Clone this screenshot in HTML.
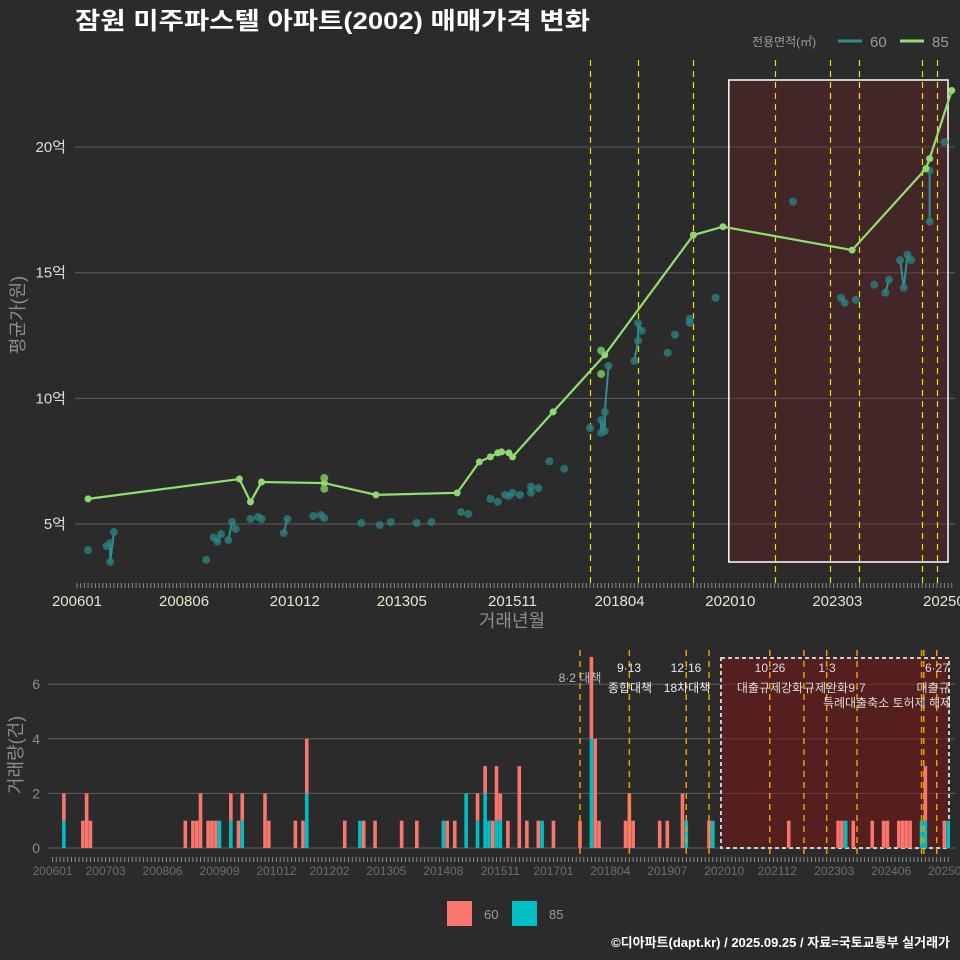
<!DOCTYPE html>
<html><head><meta charset="utf-8">
<style>
html,body{margin:0;padding:0;background:#2b2b2b;}
svg{display:block;font-family:"Liberation Sans","Noto Sans CJK KR",sans-serif;}
</style></head>
<body>
<svg id="chart" width="960" height="960" viewBox="0 0 960 960" xmlns="http://www.w3.org/2000/svg">
<rect x="0" y="0" width="960" height="960" fill="#2b2b2b"/>
<text x="75" y="29" fill="#ffffff" font-size="24" font-weight="bold" textLength="515" lengthAdjust="spacingAndGlyphs">잠원 미주파스텔 아파트(2002) 매매가격 변화</text>
<g>
<text x="752" y="46" fill="#9a9a9a" font-size="12">전용면적(㎡)</text>
<line x1="838" y1="41" x2="862" y2="41" stroke="#2f8f8f" stroke-width="3"/>
<text x="870" y="47" fill="#9a9a9a" font-size="15">60</text>
<line x1="900" y1="41" x2="924" y2="41" stroke="#90e070" stroke-width="3"/>
<text x="932" y="47" fill="#9a9a9a" font-size="15">85</text>
</g>
<g id="topPanel"></g>
<g id="botPanel"></g>
<g>
<rect x="447" y="901" width="25" height="25" fill="#f8766d"/>
<text x="484" y="919" fill="#9a9a9a" font-size="13">60</text>
<rect x="512" y="901" width="25" height="25" fill="#00bfc4"/>
<text x="549" y="919" fill="#9a9a9a" font-size="13">85</text>
</g>
<text x="950" y="947" fill="#ffffff" font-size="13" font-weight="bold" text-anchor="end">©디아파트(dapt.kr) / 2025.09.25 / 자료=국토교통부 실거래가</text>
</svg>
<script>
// month index: 0 = 2006-01
const tickMonths = [0,29,59,88,118,147,177,206,236];
const tickLabels = ["200601","200806","201012","201305","201511","201804","202010","202303","202509"];
const botTickMonths = [0,14,29,44,59,73,88,103,118,132,147,162,177,191,206,221,236];
const botTickLabels = ["200601","200703","200806","200909","201012","201202","201305","201408","201511","201701","201804","201907","202010","202112","202303","202406","202509"];
const yTicks = [5,10,15,20];
const yTickLabels = ["5억","10억","15억","20억"];
const line85Months = [3,44,47,50,67,81,103,109,112,114,115,117,118,129,143,167,175,210,230,231,237];
const line85Values = [6.0,6.79,5.88,6.67,6.63,6.16,6.24,7.47,7.67,7.83,7.87,7.83,7.67,9.46,11.73,16.5,16.83,15.9,19.14,19.54,22.25];
const extra85Months = [67,67,142,142];
const extra85Values = [6.83,6.4,11.9,10.97];
const pts60Months = [3,8,9,9,10,35,37,38,39,41,42,43,47,49,50,56,57,64,66,67,77,82,85,92,96,104,106,112,114,116,117,118,120,123,123,125,128,132,139,142,142,143,143,144,151,152,152,153,160,162,166,166,173,194,207,208,211,216,219,220,223,224,225,226,231,231,235];
const pts60Values = [3.96,4.12,4.24,3.49,4.68,3.57,4.47,4.3,4.6,4.36,5.08,4.8,5.2,5.28,5.2,4.64,5.2,5.32,5.36,5.24,5.04,4.96,5.08,5.04,5.08,5.48,5.4,6.0,5.88,6.16,6.12,6.24,6.16,6.48,6.24,6.43,7.5,7.2,8.82,8.63,9.14,8.7,9.46,11.29,11.49,12.29,13.0,12.69,11.81,12.53,13.0,13.17,14.0,17.83,14.0,13.8,13.92,14.52,14.2,14.72,15.5,14.4,15.72,15.5,17.03,19.06,20.2];
const topEventMonths = [139,152,167,189,204,212,229,233];
const botEventMonths = [139,152,167,173,189,198,204,212,229,229.6,233];
const volMonths = [3,8,9,10,35,37,38,39,41,42,43,44,47,49,50,56,57,64,66,67,77,81,82,85,92,96,103,104,106,109,112,114,115,116,117,118,120,123,125,128,129,132,139,142,143,144,151,152,153,160,162,166,167,173,174,194,207,208,209,211,216,219,220,223,224,225,226,229,230,235,236];
const vol60 = [1,1,2,1,1,1,1,2,1,1,1,0,1,1,1,2,1,1,1,2,1,0,1,1,1,1,0,1,1,0,1,1,0,1,2,1,1,3,1,1,0,1,1,3,4,1,1,2,1,1,1,2,0,1,0,1,1,1,0,1,1,1,1,1,1,1,1,0,2,1,0];
const vol85 = [1,0,0,0,0,0,0,0,0,0,0,1,1,0,1,0,0,0,0,2,0,1,0,0,0,0,1,0,0,2,1,2,1,0,1,1,0,0,0,0,1,0,0,4,0,0,0,0,0,0,0,0,1,0,1,0,0,0,1,0,0,0,0,0,0,0,0,1,1,0,1];
const volTicks = [0,2,4,6];

const NS="http://www.w3.org/2000/svg";
function mk(parent,tag,attrs){const e=document.createElementNS(NS,tag);for(const k in attrs)e.setAttribute(k,attrs[k]);parent.appendChild(e);return e;}
const xT = m => 77 + m*3.691;
const yT = v => 524 - (v-5)*25.13;
const xB = m => 52.5 + m*3.795;
const yB = c => 848 - c*27.3;
const topG=document.getElementById('topPanel'), botG=document.getElementById('botPanel');

// ---- top panel ----
yTicks.forEach((v,i)=>{
  const g=mk(topG,'line',{x1:75,x2:955,y1:yT(v),y2:yT(v),stroke:'#5e5e5e','stroke-width':1});
  
  
  const t=mk(topG,'text',{x:66,y:yT(v)+5,fill:'#dddddd','font-size':15,'text-anchor':'end'});
  t.textContent=yTickLabels[i];
  
  
});
const box=mk(topG,'rect',{x:xT(176.6),y:80,width:948-xT(176.6),height:482,fill:'rgba(110,30,35,0.35)',stroke:'#ffffff','stroke-width':1.5});


topEventMonths.forEach(m=>{
  const xx=Math.round(xT(m))+0.5;
  const l=mk(topG,'line',{x1:xx,x2:xx,y1:60,y2:585,stroke:'#e6e600','stroke-width':1.2,'stroke-dasharray':'6,5'});
  
  
});
for(let m=0;m<=237;m++){
  const l=mk(topG,'line',{x1:xT(m),x2:xT(m),y1:583,y2:588,stroke:'#8a8a8a','stroke-width':1});
  
  
}
tickMonths.forEach((m,i)=>{
  const t=mk(topG,'text',{x:xT(m),y:606,fill:'#e8e6c8','font-size':15,'text-anchor':'middle'});
  t.textContent=tickLabels[i];
  
  
});
const xt=mk(topG,'text',{x:512,y:627,fill:'#8c8c8c','font-size':18,'text-anchor':'middle'});
xt.textContent='거래년월';


const yt=mk(topG,'text',{x:0,y:0,fill:'#8c8c8c','font-size':18,'text-anchor':'middle',transform:'translate(24,315) rotate(-90)'});
yt.textContent='평균가(원)';



for(let i=1;i<pts60Months.length;i++){
  if(pts60Months[i]-pts60Months[i-1]<=1){
    const l=mk(topG,'line',{x1:xT(pts60Months[i-1]),y1:yT(pts60Values[i-1]),x2:xT(pts60Months[i]),y2:yT(pts60Values[i]),stroke:'#2f8f8f','stroke-width':2});
    
    
  }
}
pts60Months.forEach((m,i)=>{
  const c=mk(topG,'circle',{cx:xT(m),cy:yT(pts60Values[i]),r:4,fill:'#2a7f80','fill-opacity':0.8});
  
  
});
const pl=mk(topG,'polyline',{points:line85Months.map((m,i)=>xT(m)+','+yT(line85Values[i])).join(' '),fill:'none',stroke:'#90e070','stroke-width':2.2});


line85Months.forEach((m,i)=>{
  const c=mk(topG,'circle',{cx:xT(m),cy:yT(line85Values[i]),r:3.5,fill:'#8fd873'});
  
  
});
extra85Months.forEach((m,i)=>{
  const c=mk(topG,'circle',{cx:xT(m),cy:yT(extra85Values[i]),r:4,fill:'#7fc860','fill-opacity':0.85});
  
  
});

// ---- bottom panel ----
volTicks.forEach(v=>{
  const g=mk(botG,'line',{x1:48,x2:955,y1:yB(v),y2:yB(v),stroke:'#5e5e5e','stroke-width':1});
  
  
  const t=mk(botG,'text',{x:40,y:yB(v)+5,fill:'#8c8c8c','font-size':14,'text-anchor':'end'});
  t.textContent=String(v);
  
  
});
const bbox=mk(botG,'rect',{x:721,y:658,width:228,height:190,fill:'rgba(120,22,22,0.55)',stroke:'#cccccc','stroke-width':2,'stroke-dasharray':'4,3'});


volMonths.forEach((m,i)=>{
  const x=xB(m)-1.8;
  if(vol85[i]>0){
    const r=mk(botG,'rect',{x:x,y:yB(vol85[i]),width:3.6,height:yB(0)-yB(vol85[i]),fill:'#00bfc4'});
    
    
  }
  if(vol60[i]>0){
    const r=mk(botG,'rect',{x:x,y:yB(vol85[i]+vol60[i]),width:3.6,height:yB(vol85[i])-yB(vol85[i]+vol60[i]),fill:'#f8766d'});
    
    
  }
});
botEventMonths.forEach(m=>{
  const l=mk(botG,'line',{x1:xB(m),x2:xB(m),y1:650,y2:858,stroke:'#e69f00','stroke-width':1.5,'stroke-dasharray':'6,5'});
  
  
});
for(let m=0;m<=236;m++){
  const l=mk(botG,'line',{x1:xB(m),x2:xB(m),y1:857,y2:862,stroke:'#8a8a8a','stroke-width':1});
  
  
}
botTickMonths.forEach((m,i)=>{
  const t=mk(botG,'text',{x:xB(m),y:875,fill:'#6e6e6e','font-size':12,'text-anchor':'middle'});
  t.textContent=botTickLabels[i];
  
  
});
const vyt=mk(botG,'text',{x:0,y:0,fill:'#8c8c8c','font-size':18,'text-anchor':'middle',transform:'translate(22,755) rotate(-90)'});
vyt.textContent='거래량(건)';


const notes=[["8·2 대책",580,682,"#bbbbbb"],["9·13",629,672,"#eeeeee"],["종합대책",630,692,"#eeeeee"],["12·16",686,672,"#eeeeee"],["18차대책",687,692,"#eeeeee"],["10·26",770,672,"#dddddd"],["대출규제강화",770,692,"#dddddd"],["1·3",827,672,"#dddddd"],["규제완화",826,692,"#dddddd"],["9·7",857,692,"#dddddd"],["특례대출축소 토허제 해제",887,707,"#dddddd"],["6·27",937,672,"#dddddd"],["대출규",933,692,"#dddddd"]];
notes.forEach(n=>{
  const t=mk(botG,'text',{x:n[1],y:n[2],fill:n[3],'font-size':12,'text-anchor':'middle'});
  t.textContent=n[0];
  
  
});
</script>
</body></html>
